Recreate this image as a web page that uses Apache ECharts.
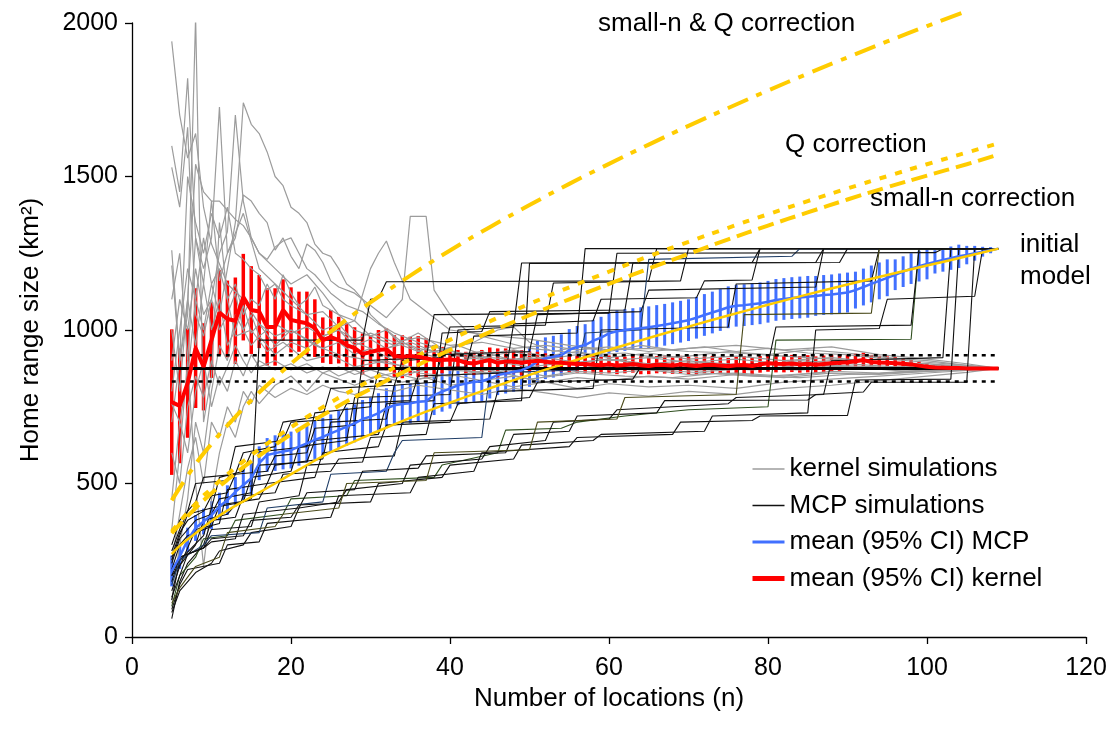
<!DOCTYPE html>
<html>
<head>
<meta charset="utf-8">
<script src="https://cdn.jsdelivr.net/npm/echarts@6/dist/echarts.min.js"></script>
<style>
  html, body { margin: 0; padding: 0; background: #fff; }
  #chart { width: 1114px; height: 736px; }
</style>
</head>
<body>
<div id="chart"></div>
<script>
// Number of locations for the mean curves (n = 5 ... 109)
const nLocations = [5,6,7,8,9,10,11,12,13,14,15,16,17,18,19,20,21,22,23,24,25,26,27,28,29,30,31,32,33,34,35,36,37,38,39,40,41,42,43,44,45,46,47,48,49,50,51,52,53,54,55,56,57,58,59,60,61,62,63,64,65,66,67,68,69,70,71,72,73,74,75,76,77,78,79,80,81,82,83,84,85,86,87,88,89,90,91,92,93,94,95,96,97,98,99,100,101,102,103,104,105,106,107,108,109];

// Mean kernel home range and 95% CI half-width
const kernelMean = [765,753,827,941,880,967,1057,1036,1030,1107,1065,1060,1010,1010,1065,1033,1027,1022,1006,967,977,967,951,941,922,928,935,937,915,913,915,913,908,902,902,904,902,893,891,897,902,893,897,897,893,897,900,897,893,893,891,889,889,887,885,888,884,886,889,885,883,887,886,884,888,885,883,886,887,884,882,885,886,883,888,892,890,889,891,888,890,887,889,892,893,895,898,902,896,894,893,892,890,888,884,880,878,877,876,876,875,875,875,875,875];
const kernelHalfCI = [237,187,178,195,142,123,138,125,141,141,143,119,126,126,100,106,98,103,94,74,88,76,71,68,67,54,65,68,68,70,63,67,65,49,43,36,33,36,38,38,41,47,43,38,41,33,29,27,28,28,28,28,28,28,27,29,28,27,28,29,27,28,28,27,28,29,28,27,28,28,27,28,29,28,27,28,28,27,28,27,28,27,28,27,26,25,25,24,23,22,21,20,18,16,14,12,10,9,8,7,6,5,4,3,0];

// Mean MCP home range and 95% CI half-width
const mcpMean = [215,262,316,355,376,397,425,446,473,495,517,566,593,599,604,609,620,631,642,652,663,674,685,696,710,718,729,745,755,759,761,766,768,788,799,809,820,826,831,833,842,853,858,864,869,880,897,908,913,918,935,945,951,965,975,989,996,1000,1003,1006,1009,1013,1017,1022,1027,1032,1040,1049,1057,1065,1074,1079,1081,1084,1087,1092,1098,1101,1104,1106,1108,1111,1114,1116,1119,1122,1130,1140,1150,1160,1170,1180,1190,1200,1208,1215,1222,1228,1234,1240,1244,1250,1255,1260,1265];
const mcpHalfCI = [50,40,40,42,42,45,45,48,48,50,52,55,55,58,58,60,62,62,62,62,62,62,62,62,62,62,65,65,65,65,65,65,65,65,65,65,65,65,65,65,65,65,65,65,65,65,68,68,68,68,68,68,68,68,68,68,68,68,68,68,68,68,68,68,68,68,68,68,68,68,68,68,68,68,68,68,68,68,68,68,68,65,65,65,65,65,60,60,60,60,60,50,50,50,50,50,38,38,38,38,30,24,16,10,0];

// Reference kernel estimate from all locations, with +/-5% band
const trueKernel = 875;
const bandUpper = 918;
const bandLower = 832;
const refSpan = [5, 109];

// Model curves: [n, home range]
const initialModel = [[5,270],[6,297],[8,338],[10,378],[12,412],[15,456],[18,500],[21,545],[25,602],[30,660],[35,714],[40,763],[45,810],[50,854],[55,895],[60,935],[65,974],[70,1011],[75,1047],[80,1082],[85,1116],[90,1148],[95,1179],[100,1210],[105,1240],[109,1265]];
const smallNCorrection = [[5,338],[8,420],[10,468],[12,512],[15,572],[18,626],[21,676],[25,738],[30,808],[35,874],[40,935],[45,993],[50,1048],[55,1100],[60,1150],[65,1200],[70,1248],[75,1295],[80,1340],[85,1383],[90,1425],[95,1465],[100,1503],[105,1540],[109,1572]];
const qCorrection = [[5,344],[8,434],[10,484],[12,530],[15,592],[18,648],[21,700],[25,764],[30,836],[35,904],[40,968],[45,1028],[50,1085],[55,1139],[60,1190],[65,1240],[70,1287],[75,1333],[80,1377],[85,1420],[90,1461],[95,1501],[100,1540],[105,1578],[109,1608]];
const smallNQCorrection = [[5,445],[8,563],[10,629],[12,689],[15,771],[18,844],[21,912],[25,995],[30,1090],[35,1177],[40,1259],[45,1335],[50,1407],[55,1476],[60,1541],[65,1604],[70,1665],[75,1723],[80,1780],[85,1835],[90,1888],[95,1940],[100,1990],[105,2039]];

// Kernel home range of individual simulation runs: [n, km2]
const kernelRuns = [
  [[5,1940],[6,1700],[7,1560],[8,1640],[9,1400],[10,1280],[12,1150],[14,1100],[16,1020],[18,980],[20,1000],[23,950],[26,920],[30,900],[35,880],[40,870],[45,860],[50,880],[55,870],[60,875],[66,890],[72,880],[78,870],[84,885],[90,880],[96,872],[102,878],[109,875]],
  [[5,1210],[6,900],[7,1050],[8,2020],[9,700],[10,850],[11,1350],[12,1100],[13,980],[15,1000],[17,930],[19,960],[22,900],[25,920],[28,880],[32,900],[36,860],[40,850],[45,870],[50,840],[56,860],[62,850],[68,845],[74,860],[80,850],[86,860],[92,855],[98,865],[104,870],[109,875]],
  [[5,1600],[6,1450],[7,1820],[8,1300],[9,1150],[10,1420],[11,1160],[12,1250],[14,1380],[16,1200],[18,1150],[20,1100],[22,1050],[24,1000],[26,1020],[28,960],[31,930],[34,960],[37,920],[40,900],[44,910],[48,930],[52,905],[56,920],[60,900],[65,910],[70,895],[76,905],[82,890],[88,900],[94,895],[100,885],[105,880],[109,875]],
  [[5,1530],[6,1400],[7,1660],[8,1050],[9,980],[10,1100],[11,1250],[12,1320],[13,1700],[14,1420],[15,1300],[16,1250],[18,1200],[20,1150],[22,1180],[24,1120],[26,1050],[28,1030],[30,980],[33,950],[36,990],[39,940],[42,920],[46,900],[50,910],[55,890],[60,905],[66,880],[72,895],[78,885],[84,900],[90,890],[96,880],[102,882],[109,875]],
  [[5,760],[6,700],[7,850],[8,1100],[9,1000],[10,1150],[11,1050],[12,1200],[13,1350],[14,1740],[15,1670],[16,1640],[17,1580],[18,1500],[19,1470],[20,1400],[21,1380],[22,1350],[23,1280],[24,1250],[25,1240],[26,1200],[27,1150],[28,1130],[29,1100],[30,1050],[32,1000],[34,960],[36,940],[40,920],[45,900],[50,880],[55,895],[60,870],[66,880],[72,865],[78,875],[84,870],[90,880],[96,868],[102,874],[109,875]],
  [[5,1100],[6,1250],[7,900],[8,1300],[9,1200],[10,1300],[11,1726],[12,1250],[13,1300],[14,1440],[15,1420],[16,1380],[17,1350],[18,1260],[19,1300],[20,1240],[21,1200],[22,1280],[23,1260],[24,1220],[25,1160],[26,1140],[28,1120],[30,1080],[32,1040],[34,1100],[35,1370],[37,1370],[38,1130],[40,1050],[42,1000],[44,980],[47,960],[50,940],[54,930],[58,920],[62,925],[66,910],[70,915],[75,930],[80,920],[85,935],[90,925],[95,910],[100,900],[105,885],[109,875]],
  [[5,1260],[6,900],[7,1500],[8,1350],[9,1250],[10,1380],[11,1300],[12,1400],[13,1250],[14,1230],[15,1200],[16,1180],[17,1130],[18,1150],[19,1100],[20,1080],[22,1050],[24,1060],[26,1010],[28,1030],[30,1200],[31,1250],[32,1290],[33,1220],[34,1160],[35,1100],[37,1060],[40,1000],[43,990],[46,980],[50,970],[55,950],[60,935],[65,940],[70,930],[76,925],[82,915],[88,905],[94,895],[100,890],[105,880],[109,875]],
  [[5,350],[6,600],[7,900],[8,500],[9,230],[10,450],[11,600],[12,700],[13,650],[14,750],[15,800],[16,760],[18,820],[20,850],[22,800],[24,860],[26,840],[28,820],[31,850],[34,830],[37,845],[40,820],[44,835],[48,815],[52,830],[56,810],[60,825],[65,815],[70,820],[76,810],[82,830],[88,840],[94,850],[100,860],[105,868],[109,875]],
  [[5,120],[6,300],[7,450],[8,700],[9,600],[10,800],[11,950],[12,900],[13,1050],[14,1000],[15,950],[16,980],[18,920],[20,960],[22,940],[24,980],[26,1000],[28,950],[30,970],[32,940],[35,960],[38,930],[41,950],[44,920],[48,935],[52,915],[56,930],[60,910],[65,925],[70,905],[76,915],[82,900],[88,910],[94,895],[100,890],[105,882],[109,875]],
  [[5,900],[6,1100],[7,1000],[8,1200],[9,1050],[10,1100],[11,1000],[12,1050],[13,1120],[14,1000],[15,1050],[16,980],[18,1020],[20,990],[22,1010],[24,980],[26,1000],[28,970],[30,990],[33,960],[36,975],[40,950],[44,960],[48,940],[52,950],[56,935],[60,945],[65,930],[70,940],[76,950],[82,935],[88,945],[94,920],[100,905],[105,890],[109,875]],
  [[5,600],[6,500],[7,750],[8,850],[9,780],[10,900],[11,820],[12,880],[13,950],[14,900],[15,860],[16,900],[18,870],[20,890],[22,860],[24,880],[26,850],[28,870],[30,845],[33,860],[36,840],[40,855],[44,835],[48,850],[52,830],[56,845],[60,835],[65,850],[70,840],[76,855],[82,845],[88,860],[94,855],[100,865],[105,870],[109,875]],
  [[5,1000],[6,800],[7,1100],[8,950],[9,1150],[10,1000],[11,1100],[12,950],[13,1000],[14,1080],[15,990],[16,1020],[18,950],[20,1000],[22,970],[24,940],[26,960],[28,920],[30,940],[33,900],[36,920],[40,940],[43,960],[46,1000],[48,1010],[50,960],[53,930],[56,945],[60,930],[64,950],[68,935],[72,945],[76,930],[80,940],[85,925],[90,920],[95,905],[100,895],[105,885],[109,875]],
  [[5,450],[6,700],[7,600],[8,800],[9,900],[10,750],[11,850],[12,800],[13,900],[14,850],[15,920],[16,880],[18,900],[20,870],[22,890],[24,860],[26,880],[28,855],[30,870],[33,845],[36,865],[40,880],[44,860],[48,870],[52,850],[56,865],[60,860],[65,870],[70,855],[76,860],[82,850],[88,865],[94,860],[100,870],[105,872],[109,875]],
  [[5,800],[6,1000],[7,1200],[8,1100],[9,1300],[10,1150],[11,1200],[12,1100],[13,1150],[14,1050],[15,1100],[16,1080],[17,1150],[18,1100],[19,1180],[20,1120],[21,1080],[22,1100],[23,1140],[24,1080],[26,1050],[28,1000],[30,980],[32,1000],[34,950],[36,930],[38,950],[40,920],[44,930],[48,900],[52,910],[56,895],[60,905],[65,890],[70,900],[76,880],[82,895],[88,885],[94,880],[100,878],[105,876],[109,875]],
  [[5,700],[6,900],[7,1100],[8,1540],[9,1450],[10,1420],[11,1420],[12,1390],[13,1360],[14,1340],[15,1300],[16,1250],[17,1230],[18,1270],[19,1290],[20,1300],[21,1250],[22,1200],[23,1180],[24,1150],[25,1120],[27,1080],[29,1060],[31,1020],[33,990],[36,960],[40,930],[45,910],[50,900],[55,890],[60,880],[66,870],[72,860],[78,850],[84,845],[90,855],[96,860],[102,868],[109,875]],
  [[5,250],[6,400],[7,550],[8,650],[9,500],[10,700],[11,650],[12,750],[13,700],[14,800],[15,760],[16,820],[18,780],[20,810],[22,790],[24,820],[26,800],[28,790],[30,810],[33,800],[36,820],[40,805],[44,790],[48,810],[52,795],[56,780],[60,795],[65,785],[70,800],[76,790],[82,810],[88,820],[94,835],[100,850],[105,862],[109,875]]
];

// MCP home range of individual simulation runs (stepwise growth): [n, km2]
const mcpRuns = [
  [[5,200],[8,300],[9,380],[12,400],[13,430],[15,450],[16,967],[29,967],[30,1100],[31,1103],[32,1157],[65,1160],[66,1265],[109,1265]],
  [[5,120],[6,250],[9,330],[10,420],[14,440],[15,520],[20,540],[21,620],[27,640],[28,780],[40,790],[41,1000],[48,1010],[49,1218],[78,1220],[79,1265],[109,1265]],
  [[5,60],[6,180],[7,240],[9,300],[10,380],[13,390],[14,460],[18,470],[19,530],[25,540],[26,580],[33,590],[34,700],[45,710],[46,800],[58,810],[59,1000],[75,1010],[76,1150],[93,1160],[94,1265],[109,1265]],
  [[5,150],[6,230],[8,350],[11,370],[12,480],[17,500],[18,560],[24,580],[25,700],[32,710],[33,820],[38,830],[39,920],[50,930],[51,1050],[64,1060],[65,1130],[86,1140],[87,1265],[109,1265]],
  [[5,100],[6,200],[8,260],[9,320],[12,330],[13,380],[19,400],[20,450],[27,460],[28,510],[38,520],[39,560],[46,600],[47,674],[54,680],[56,700],[62,720],[70,740],[80,750],[81,967],[98,970],[99,1265],[109,1265]],
  [[5,250],[6,330],[7,400],[10,420],[11,520],[14,540],[15,600],[22,620],[23,730],[30,750],[31,870],[42,880],[43,980],[56,990],[57,1265],[109,1265]],
  [[5,180],[6,260],[9,290],[10,350],[15,360],[16,440],[21,460],[22,560],[29,570],[30,650],[37,660],[38,760],[49,770],[50,1217],[89,1220],[90,1265],[109,1265]],
  [[5,80],[6,150],[8,210],[10,240],[11,280],[14,300],[15,340],[20,360],[21,420],[26,440],[27,480],[34,500],[35,560],[44,580],[45,620],[52,640],[53,700],[60,710],[61,740],[75,760],[76,780],[87,790],[88,900],[102,910],[103,1265],[109,1265]],
  [[5,300],[6,380],[8,440],[9,520],[13,530],[14,600],[18,620],[19,700],[24,720],[25,810],[33,820],[34,900],[39,910],[40,1010],[52,1016],[53,1153],[69,1160],[70,1265],[109,1265]],
  [[5,220],[6,300],[7,330],[10,360],[11,430],[16,450],[17,500],[23,520],[24,600],[31,620],[32,690],[40,700],[41,760],[50,780],[51,830],[63,840],[64,880],[80,890],[81,1010],[98,1016],[99,1265],[109,1265]],
  [[5,170],[6,250],[9,300],[10,330],[16,340],[17,420],[24,440],[25,530],[32,540],[33,600],[34,640],[44,650],[45,860],[56,870],[57,990],[64,1000],[65,1230],[83,1240],[84,1265],[109,1265]],
  [[5,130],[6,200],[7,270],[9,290],[10,310],[13,320],[14,400],[21,420],[22,470],[28,480],[29,540],[36,550],[37,590],[47,600],[48,660],[55,670],[56,720],[66,730],[67,770],[85,772],[86,790],[92,798],[93,830],[105,830],[106,1265],[109,1265]],
  [[5,260],[6,340],[7,380],[9,410],[10,460],[12,470],[13,530],[17,540],[18,590],[22,600],[23,680],[28,690],[29,900],[37,910],[38,1050],[60,1055],[61,1250],[101,1252],[102,1265],[109,1265]],
  [[5,200],[6,260],[9,290],[10,320],[14,330],[15,380],[20,390],[21,430],[30,440],[31,500],[39,520],[40,560],[48,580],[49,625],[58,640],[59,660],[72,670],[73,720],[85,730],[86,1000],[94,1005],[95,1100],[106,1110],[107,1265],[109,1265]],
  [[5,90],[6,170],[7,220],[11,240],[12,300],[16,310],[17,370],[25,390],[26,460],[35,470],[36,520],[43,540],[44,600],[55,620],[56,650],[68,660],[69,700],[78,705],[79,720],[90,722],[91,837],[103,840],[104,1265],[109,1265]],
  [[5,280],[6,350],[7,410],[8,500],[12,510],[13,620],[19,640],[20,700],[26,710],[27,760],[35,770],[36,850],[47,860],[48,1020],[58,1030],[59,1100],[71,1105],[72,1160],[78,1163],[79,1265],[109,1265]],
  [[5,110],[6,160],[8,230],[11,260],[12,340],[18,360],[19,400],[26,420],[27,500],[37,510],[38,600],[50,610],[51,700],[61,710],[62,780],[76,790],[77,1050],[93,1055],[94,1265],[109,1265]],
  [[5,240],[6,320],[8,380],[10,400],[11,450],[15,470],[16,560],[22,570],[23,640],[31,660],[32,760],[38,770],[39,990],[44,995],[45,1060],[62,1065],[63,1218],[86,1220],[87,1265],[109,1265]]
];
// a few runs were drawn in dark tints rather than black
const mcpRunColors = ['#111','#111','#111','#111','#2f4f1f','#111','#111','#111','#111','#111','#1f3d66','#111','#111','#111','#111','#111','#4a4a1a','#111'];

const FONT = 'Liberation Sans, Arial, sans-serif';
const KERNEL_RUNS = 'kernel simulations';
const MCP_RUNS = 'MCP simulations';
const MCP_MEAN = 'mean (95% CI) MCP';
const KERNEL_MEAN = 'mean (95% CI) kernel';

function ciBars(name, mean, half, color, width) {
  return {
    name: name,
    type: 'custom',
    silent: true,
    data: nLocations.map((n, i) => [n, mean[i] - half[i], mean[i] + half[i]]),
    encode: { x: 0, y: [1, 2] },
    renderItem: function (params, api) {
      const lo = api.coord([api.value(0), api.value(1)]);
      const hi = api.coord([api.value(0), api.value(2)]);
      return {
        type: 'line',
        shape: { x1: lo[0], y1: lo[1], x2: hi[0], y2: hi[1] },
        style: { stroke: color, lineWidth: width }
      };
    }
  };
}

function plainLine(name, data, color, width, extra) {
  return Object.assign({
    name: name,
    type: 'line',
    data: data,
    symbol: 'none',
    silent: true,
    lineStyle: { color: color, width: width },
    itemStyle: { color: color }
  }, extra || {});
}

const series = [];
kernelRuns.forEach(run => series.push(plainLine(KERNEL_RUNS, run, '#9c9c9c', 1.2)));
mcpRuns.forEach((run, i) => series.push(plainLine(MCP_RUNS, run, mcpRunColors[i], 1.1)));

// reference kernel estimate with its 5% band
series.push(plainLine('reference', refSpan.map(n => [n, trueKernel]), '#000', 3));
series.push(plainLine('band upper', refSpan.map(n => [n, bandUpper]), '#000', 2.5, { lineStyle: { color: '#000', width: 2.5, type: [4, 5] } }));
series.push(plainLine('band lower', refSpan.map(n => [n, bandLower]), '#000', 2.5, { lineStyle: { color: '#000', width: 2.5, type: [4, 5] } }));

// MCP mean with CI
series.push(ciBars('MCP CI', mcpMean, mcpHalfCI, '#4170ff', 3));
series.push(plainLine(MCP_MEAN, nLocations.map((n, i) => [n, mcpMean[i]]), '#4170ff', 2.5));

// model curves
const YEL = '#ffcc00';
series.push(plainLine('initial model', initialModel, YEL, 2.5, { smooth: true }));
series.push(plainLine('small-n correction', smallNCorrection, YEL, 4, { smooth: true, lineStyle: { color: YEL, width: 4, type: [16, 7] } }));
series.push(plainLine('Q correction', qCorrection, YEL, 4, { smooth: true, lineStyle: { color: YEL, width: 4, type: [7, 9] } }));
series.push(plainLine('small-n & Q correction', smallNQCorrection, YEL, 4, { smooth: true, clip: false, lineStyle: { color: YEL, width: 4, type: [22, 9, 6, 9] } }));

// kernel mean with CI
series.push(ciBars('kernel CI', kernelMean, kernelHalfCI, '#ff0000', 3.5));
series.push(plainLine(KERNEL_MEAN, nLocations.map((n, i) => [n, kernelMean[i]]), '#ff0000', 4));

const chart = echarts.init(document.getElementById('chart'), null, { renderer: 'canvas' });
chart.setOption({
  animation: false,
  backgroundColor: '#fff',
  textStyle: { fontFamily: FONT },
  grid: { left: 132, right: 28, top: 23, bottom: 99 },
  xAxis: {
    type: 'value', min: 0, max: 120, interval: 20,
    name: 'Number of locations (n)', nameLocation: 'middle', nameGap: 40,
    nameTextStyle: { fontFamily: FONT, fontSize: 26, color: '#000' },
    axisLine: { lineStyle: { color: '#000', width: 1.3 } },
    axisTick: { inside: false, length: 7, lineStyle: { color: '#000', width: 1.3 } },
    axisLabel: { fontFamily: FONT, fontSize: 25, color: '#000', margin: 19, formatter: v => String(v) },
    splitLine: { show: false }
  },
  yAxis: {
    type: 'value', min: 0, max: 2000, interval: 500,
    name: 'Home range size (km²)', nameLocation: 'middle', nameGap: 88, nameRotate: 90,
    nameTextStyle: { fontFamily: FONT, fontSize: 26, color: '#000' },
    axisLine: { show: true, lineStyle: { color: '#000', width: 1.3 } },
    axisTick: { show: true, inside: false, length: 7, lineStyle: { color: '#000', width: 1.3 } },
    axisLabel: { fontFamily: FONT, fontSize: 25, color: '#000', margin: 14, formatter: v => String(v) },
    splitLine: { show: false }
  },
  legend: {
    data: [
      { name: KERNEL_RUNS, lineStyle: { width: 1.5 } },
      { name: MCP_RUNS, lineStyle: { width: 1.5 } },
      { name: MCP_MEAN, lineStyle: { width: 3 } },
      { name: KERNEL_MEAN, lineStyle: { width: 5 } }
    ],
    orient: 'vertical', left: 745, top: 451,
    itemWidth: 32, itemHeight: 14, itemGap: 10.5,
    itemStyle: { opacity: 0 },
    textStyle: { fontFamily: FONT, fontSize: 26, color: '#000' },
    selectedMode: false
  },
  graphic: [
    { type: 'text', left: 598, top: 11, style: { text: 'small-n & Q correction', font: '26px ' + FONT, fill: '#000' } },
    { type: 'text', left: 785, top: 132, style: { text: 'Q correction', font: '26px ' + FONT, fill: '#000' } },
    { type: 'text', left: 870, top: 186, style: { text: 'small-n correction', font: '26px ' + FONT, fill: '#000' } },
    { type: 'text', left: 1020, top: 229, style: { text: 'initial\nmodel', font: '26px ' + FONT, fill: '#000', lineHeight: 32 } }
  ],
  series: series
});
</script>
</body>
</html>
